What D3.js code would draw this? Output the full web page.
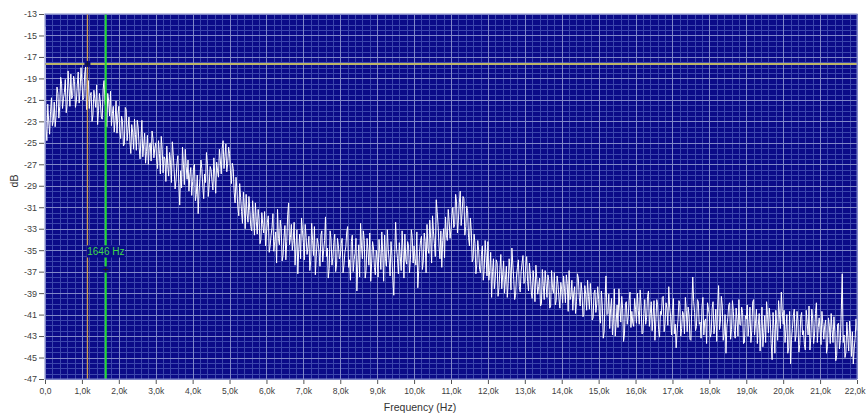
<!DOCTYPE html>
<html>
<head>
<meta charset="utf-8">
<script src="https://cdn.jsdelivr.net/npm/d3@7"></script>
<style>
  body { margin: 0; background: #fff; }
  text { font-family: "Liberation Sans", Arial, sans-serif; }
</style>
</head>
<body>
<div id="container"></div>
<script>
// spectrum, one value every 50 Hz from 0 to 22 kHz
const freqStep = 50;
const dbValues = [
  // 0 - 0.95k
  -14.2, -24.8, -23.0, -22.1, -23.4, -21.2, -22.5, -20.4, -21.6, -19.5, -20.9, -19.1, -21.4, -19.9, -18.6, -20.6, -19.3, -21.1, -18.4, -20.2,
  // 1k
  -19.3, -20.8, -17.9, -20.5, -21.8, -20.3, -22.4, -20.9, -19.6, -22.0, -21.2, -22.8, -19.2, -21.9, -20.4, -22.5, -23.4, -21.6, -22.9, -24.1,
  // 2k
  -21.6, -24.6, -23.0, -25.1, -21.9, -23.7, -24.9, -23.3, -25.6, -24.2, -22.9, -25.4, -24.6, -26.3, -24.1, -25.8, -27.0, -25.0, -23.9, -26.4,
  // 3k
  -25.0, -27.4, -26.0, -24.4, -27.8, -26.5, -25.3, -28.1, -26.8, -24.9, -27.6, -28.5, -26.2, -30.8, -29.2, -27.0, -25.6, -28.4, -29.5, -27.3,
  // 4k
  -28.6, -27.0, -29.8, -31.6, -28.3, -27.4, -30.2, -28.7, -26.9, -28.9, -27.5, -29.4, -28.0, -26.8, -28.2, -26.6, -25.5, -27.4, -25.1, -26.9,
  // 5k
  -26.0, -28.8, -27.4, -30.6, -29.4, -31.8, -30.1, -32.5, -31.0, -29.8, -32.4, -31.3, -33.2, -31.9, -30.6, -33.5, -32.1, -34.0, -32.6, -31.4,
  // 6k
  -33.4, -31.8, -34.6, -32.9, -35.1, -33.3, -31.2, -34.5, -33.0, -35.5, -32.7, -34.2, -30.6, -33.8, -35.0, -32.4, -34.7, -37.2, -33.5, -32.0,
  // 7k
  -34.3, -32.6, -35.4, -33.7, -36.0, -34.1, -32.8, -35.6, -34.4, -36.5, -33.2, -35.0, -31.9, -34.8, -36.7, -34.0, -35.7, -33.5, -36.3, -34.6,
  // 8k
  -35.6, -33.9, -36.4, -34.7, -32.8, -35.9, -34.2, -37.0, -35.3, -38.8, -34.5, -32.5, -35.8, -34.1, -36.9, -35.0, -33.4, -36.2, -34.8, -37.3,
  // 9k
  -35.9, -34.0, -36.8, -35.2, -33.6, -36.5, -34.9, -37.4, -35.5, -39.2, -32.4, -35.8, -34.3, -36.9, -35.1, -33.5, -36.3, -34.6, -35.9, -33.8,
  // 10k
  -34.6, -36.4, -38.5, -35.1, -33.7, -36.0, -34.2, -32.6, -35.3, -33.9, -31.8, -34.4, -30.3, -32.7, -35.8, -36.6, -33.0, -31.9, -34.1, -32.3,
  // 11k
  -33.1, -31.0, -32.6, -30.5, -32.2, -29.5, -31.6, -30.2, -32.8, -31.3, -34.6, -33.2, -35.8, -34.4, -36.3, -35.0, -37.1, -34.6, -36.8, -35.5,
  // 12k
  -34.2, -36.9, -39.4, -35.8, -37.6, -36.2, -38.5, -35.4, -37.3, -39.0, -36.5, -38.1, -36.9, -34.8, -37.7, -39.2, -36.6, -38.4, -37.0, -35.5,
  // 13k
  -37.9, -35.6, -38.8, -37.2, -39.5, -38.0, -36.4, -39.1, -37.6, -40.0, -38.3, -36.9, -39.4, -37.8, -40.2, -38.5, -37.1, -39.7, -38.2, -40.4,
  // 14k
  -38.7, -37.4, -39.9, -38.1, -36.9, -39.3, -40.6, -38.4, -39.8, -37.6, -40.2, -38.9, -41.0, -39.1, -37.8, -40.5, -39.3, -41.3, -38.7, -40.0,
  // 15k
  -39.6, -41.8, -40.2, -42.6, -37.4, -40.9, -42.3, -39.5, -41.4, -43.0, -40.1, -38.6, -41.7, -40.4, -42.8, -39.8, -41.2, -38.9, -40.7, -42.1,
  // 16k
  -40.5, -39.0, -41.9, -40.2, -42.7, -39.6, -41.3, -38.8, -40.9, -42.5, -39.7, -41.6, -40.1, -43.1, -41.0, -39.3, -41.8, -40.4, -38.4, -41.2,
  // 17k
  -40.6, -42.8, -44.1, -41.5, -40.0, -42.3, -41.0, -39.4, -42.6, -41.1, -43.4, -37.5, -40.8, -42.1, -39.8, -41.7, -40.3, -42.9, -41.4, -39.9,
  // 18k
  -41.0, -42.7, -39.8, -41.9, -43.5, -38.3, -41.6, -40.2, -42.8, -44.6, -41.3, -39.9, -42.4, -40.7, -43.2, -41.5, -39.6, -42.0, -40.8, -43.6,
  // 19k
  -41.4, -43.0, -40.3, -42.5, -39.6, -41.8, -43.7, -40.9, -42.2, -44.0, -41.1, -39.8, -42.7, -41.5, -45.2, -42.3, -40.6, -43.4, -41.0, -38.9,
  // 20k
  -41.9, -43.6, -41.0, -44.1, -45.6, -42.3, -40.5, -42.9, -41.6, -43.8, -40.8, -42.5, -44.3, -41.8, -40.2, -43.1, -41.4, -42.8, -39.9, -42.2,
  // 21k
  -42.4, -40.7, -43.3, -41.5, -44.0, -42.0, -40.9, -43.6, -42.6, -44.8, -41.8, -43.4, -37.2, -42.9, -44.5, -43.1, -41.6, -44.9, -45.6, -43.2,
  // 22k
  -42.5
]

// values read between the bins above (25 Hz, 75 Hz, ...)
const dbValuesMid = [
  -23.6, -21.4, -24.2, -20.8, -22.9, -23.5, -19.8, -22.7, -18.9, -21.8, -20.3, -22.2, -18.3, -21.6, -20.9, -18.8, -21.7, -19.6, -21.3, -18.0,
  -21.0, -18.6, -21.9, -19.2, -20.6, -23.0, -20.1, -21.7, -23.3, -20.4, -22.6, -20.0, -21.3, -23.5, -21.1, -20.2, -22.3, -24.0, -21.1, -22.4,
  -23.9, -22.5, -25.3, -21.7, -24.8, -22.6, -26.0, -24.0, -22.8, -25.7, -23.6, -26.5, -22.9, -25.2, -26.9, -24.3, -25.4, -26.7, -24.6, -25.5,
  -26.6, -24.8, -27.9, -25.6, -26.3, -28.6, -27.1, -25.9, -28.7, -26.1, -29.3, -26.9, -28.8, -27.6, -25.4, -28.9, -27.2, -26.6, -28.0, -29.9,
  -27.3, -30.4, -28.0, -29.5, -26.6, -29.1, -27.9, -25.9, -30.0, -27.2, -28.6, -26.4, -29.7, -27.6, -25.6, -27.9, -24.8, -26.3, -27.7, -25.4,
  -27.6, -26.9, -29.6, -28.2, -31.0, -28.8, -31.4, -29.6, -33.0, -31.6, -30.0, -32.8, -30.4, -33.6, -32.3, -31.2, -34.4, -31.5, -33.4, -34.6,
  -32.4, -35.2, -33.6, -31.6, -34.2, -36.2, -33.9, -32.2, -36.0, -33.8, -35.9, -31.7, -34.5, -32.6, -34.1, -36.4, -33.1, -34.9, -35.8, -33.2,
  -35.9, -33.8, -34.7, -36.9, -32.5, -35.5, -37.3, -33.9, -35.2, -33.6, -36.1, -34.1, -35.6, -37.6, -33.2, -36.4, -34.3, -37.0, -33.9, -35.8,
  -34.4, -37.1, -35.2, -33.3, -36.6, -37.8, -33.6, -35.9, -33.9, -36.3, -37.5, -34.6, -33.2, -37.6, -33.9, -36.4, -37.9, -34.2, -36.6, -35.0,
  -37.5, -35.3, -33.3, -37.9, -35.8, -33.1, -36.0, -34.2, -37.8, -35.4, -34.8, -37.2, -35.6, -33.2, -37.6, -35.9, -34.2, -37.1, -33.1, -36.2,
  -35.8, -33.3, -36.9, -34.1, -36.8, -33.4, -37.1, -34.8, -32.2, -36.2, -33.3, -35.6, -31.4, -34.6, -33.2, -34.1, -35.7, -33.6, -31.2, -33.9,
  -31.8, -32.9, -29.8, -33.4, -30.6, -32.7, -30.0, -33.6, -30.9, -33.8, -32.0, -36.1, -33.5, -37.2, -34.1, -36.8, -35.4, -37.8, -34.1, -37.4,
  -37.8, -35.2, -37.0, -38.6, -35.9, -39.3, -36.8, -38.6, -36.0, -37.7, -39.4, -35.8, -38.7, -36.3, -39.6, -37.4, -35.9, -38.9, -36.2, -38.1,
  -36.4, -37.9, -36.2, -38.9, -36.9, -39.8, -37.7, -38.4, -40.2, -36.8, -39.6, -38.1, -37.3, -40.4, -36.9, -39.0, -40.1, -37.4, -39.5, -38.0,
  -39.9, -38.6, -37.3, -40.7, -39.6, -37.8, -39.0, -40.9, -37.2, -39.4, -38.0, -41.2, -38.3, -40.6, -39.3, -38.1, -41.5, -39.0, -40.8, -38.4,
  -41.3, -38.8, -43.2, -39.4, -41.0, -39.1, -40.4, -42.9, -38.6, -41.7, -42.2, -40.3, -39.3, -43.5, -40.0, -41.9, -39.7, -42.2, -41.8, -39.5,
  -41.8, -40.6, -38.7, -42.8, -40.9, -41.9, -39.3, -42.1, -39.8, -41.2, -43.4, -39.6, -42.4, -40.7, -39.4, -42.6, -39.9, -42.0, -40.3, -42.9,
  -39.5, -41.9, -42.6, -39.7, -43.0, -40.7, -42.8, -40.6, -40.3, -43.3, -40.2, -39.8, -42.5, -39.6, -41.9, -43.2, -39.4, -41.6, -43.7, -40.5,
  -43.1, -40.4, -42.8, -40.5, -40.2, -42.4, -39.3, -43.4, -41.0, -42.1, -40.1, -43.3, -39.7, -42.5, -40.4, -43.0, -41.9, -40.3, -43.7, -41.1,
  -40.1, -41.9, -43.6, -39.8, -42.9, -40.5, -42.0, -44.4, -40.3, -42.7, -43.6, -41.0, -40.4, -43.7, -40.8, -44.6, -41.9, -39.7, -42.3, -40.7,
  -40.6, -42.4, -44.6, -40.7, -43.3, -41.1, -43.5, -40.7, -44.5, -41.2, -42.9, -43.8, -40.6, -42.9, -44.3, -40.5, -43.7, -40.9, -43.6, -41.3,
  -43.8, -41.9, -42.0, -44.6, -41.3, -43.7, -42.4, -41.2, -45.3, -41.9, -44.2, -40.5, -43.6, -45.0, -41.7, -44.4, -42.8, -42.6, -44.1, -41.4
]

const xTicks = [0, 1000, 2000, 3000, 4000, 5000, 6000, 7000, 8000, 9000, 10000, 11000,
  12000, 13000, 14000, 15000, 16000, 17000, 18000, 19000, 20000, 21000, 22000]
const xTickLabels = ["0,0", "1,0k", "2,0k", "3,0k", "4,0k", "5,0k", "6,0k", "7,0k", "8,0k", "9,0k", "10,0k", "11,0k",
  "12,0k", "13,0k", "14,0k", "15,0k", "16,0k", "17,0k", "18,0k", "19,0k", "20,0k", "21,0k", "22,0k"]
const yTicks = [-13, -15, -17, -19, -21, -23, -25, -27, -29, -31, -33, -35, -37, -39, -41, -43, -45, -47]

// cursors: yellow (freq + level), green (freq with label)
const yellowCursor = { freq: 1150, db: -17.65 }
const greenCursor = { freq: 1646, db: -36.8, label: "1646 Hz" }

// constants
const width = 866,
  height = 414,
  margin = { top: 14, bottom: 35, left: 45, right: 9 }

const bg = "#0b0b88"

// interleave the two readings into one trace
const data = []
dbValues.forEach((v, i) => {
  data.push({ freq: i * freqStep, db: v })
  if (i < dbValuesMid.length) data.push({ freq: i * freqStep + freqStep / 2, db: dbValuesMid[i] })
})

// scales
const xScale = d3.scaleLinear()
  .domain([0, 22000])
  .range([margin.left, width - margin.right])

const yScale = d3.scaleLinear()
  .domain([-47, -13])
  .range([height - margin.bottom, margin.top])

const svg = d3.select("#container")
  .append("svg")
  .attr("width", width)
  .attr("height", height)

const x0 = xScale.range()[0], x1 = xScale.range()[1]
const y0 = yScale.range()[0], y1 = yScale.range()[1]

svg.append("rect")
  .attr("x", x0).attr("y", y1)
  .attr("width", x1 - x0).attr("height", y0 - y1)
  .attr("fill", bg)

// grid: minor every 200 Hz / 0.5 dB, major every 1 kHz / 2 dB
const grid = svg.append("g").attr("class", "grid")
const xMinor = d3.range(0, 22001, 200)
const yMinor = d3.range(-47, -12.9, 0.5)

grid.selectAll(".vminor")
  .data(xMinor)
  .join("line")
  .attr("x1", d => Math.round(xScale(d)) + 0.5)
  .attr("x2", d => Math.round(xScale(d)) + 0.5)
  .attr("y1", y1).attr("y2", y0)
  .attr("stroke", "#3d47ad")
  .attr("stroke-width", 1)

grid.selectAll(".hminor")
  .data(yMinor)
  .join("line")
  .attr("y1", d => Math.round(yScale(d)) + 0.5)
  .attr("y2", d => Math.round(yScale(d)) + 0.5)
  .attr("x1", x0).attr("x2", x1)
  .attr("stroke", "#3d47ad")
  .attr("stroke-width", 1)

grid.selectAll(".vmajor")
  .data(xTicks)
  .join("line")
  .attr("x1", d => Math.round(xScale(d)) + 0.5)
  .attr("x2", d => Math.round(xScale(d)) + 0.5)
  .attr("y1", y1).attr("y2", y0)
  .attr("stroke", "#8088c8")
  .attr("stroke-width", 1)

grid.selectAll(".hmajor")
  .data(yTicks)
  .join("line")
  .attr("y1", d => Math.round(yScale(d)) + 0.5)
  .attr("y2", d => Math.round(yScale(d)) + 0.5)
  .attr("x1", x0).attr("x2", x1)
  .attr("stroke", "#8088c8")
  .attr("stroke-width", 1)

// spectrum line
const lineGen = d3.line()
  .x(d => xScale(d.freq))
  .y(d => yScale(d.db))

svg.append("path")
  .datum(data)
  .attr("fill", "none")
  .attr("stroke", "#ffffff")
  .attr("stroke-width", 1)
  .attr("d", lineGen)

// cursors
const cur = svg.append("g").attr("class", "cursors")

cur.append("line")
  .attr("x1", xScale(yellowCursor.freq)).attr("x2", xScale(yellowCursor.freq))
  .attr("y1", y1).attr("y2", y0)
  .attr("stroke", "#d0a050").attr("stroke-width", 1.3)

cur.append("line")
  .attr("x1", x0).attr("x2", x1)
  .attr("y1", yScale(yellowCursor.db)).attr("y2", yScale(yellowCursor.db))
  .attr("stroke", "#bcb468").attr("stroke-width", 2)

const gx = xScale(greenCursor.freq)
cur.append("line")
  .attr("x1", gx).attr("x2", gx)
  .attr("y1", y1).attr("y2", y0)
  .attr("stroke", "#22dd33").attr("stroke-width", 2)

// label box hides the cursor behind its text
const gy = yScale(greenCursor.db)
cur.append("rect")
  .attr("x", gx - 19).attr("y", gy - 24)
  .attr("width", 38).attr("height", 12)
  .attr("fill", bg)

cur.append("text")
  .attr("x", gx - 18.5).attr("y", gy - 14.5)
  .attr("fill", "#3ed84a")
  .attr("font-size", 10)
  .text(greenCursor.label)

// small cross markers at the cursor points
function marker(px, py) {
  cur.append("rect").attr("x", px - 3).attr("y", py - 3).attr("width", 6).attr("height", 6).attr("fill", bg)
  cur.append("path")
    .attr("d", `M${px - 2.5},${py}H${px + 2.5}M${px},${py - 2.5}V${py + 2.5}`)
    .attr("stroke", "#202020").attr("stroke-width", 1)
}
marker(gx, gy)
marker(xScale(yellowCursor.freq), yScale(yellowCursor.db))

// frame
svg.append("rect")
  .attr("x", x0).attr("y", y1)
  .attr("width", x1 - x0).attr("height", y0 - y1)
  .attr("fill", "none")
  .attr("stroke", "#8088c8")

// axes
const xAxis = d3.axisBottom(xScale)
  .tickValues(xTicks)
  .tickFormat((d, i) => xTickLabels[i])
  .tickSize(4)
  .tickPadding(4)

const xAxisGroup = svg.append("g")
  .attr("class", "xAxis")
  .attr("transform", `translate(0, ${y0 + 1})`)
  .call(xAxis)

xAxisGroup.select(".domain").remove()
xAxisGroup.selectAll("line").attr("stroke", "#555")
xAxisGroup.selectAll("text")
  .attr("fill", "#404040")
  .attr("font-size", 8.5)
  .attr("font-family", "Liberation Sans, Arial, sans-serif")

// last label sits against the right edge
xAxisGroup.selectAll("text")
  .filter((d, i) => i === xTicks.length - 1)
  .attr("text-anchor", "end")
  .attr("x", 8)

const yAxis = d3.axisLeft(yScale)
  .tickValues(yTicks)
  .tickFormat(d => d)
  .tickSize(5)
  .tickPadding(2)

const yAxisGroup = svg.append("g")
  .attr("class", "yAxis")
  .attr("transform", `translate(${x0 - 1}, 0)`)
  .call(yAxis)

yAxisGroup.select(".domain").remove()
yAxisGroup.selectAll("line").attr("stroke", "#555")
yAxisGroup.selectAll("text")
  .attr("fill", "#404040")
  .attr("font-size", 9)
  .attr("font-family", "Liberation Sans, Arial, sans-serif")

// axis titles
svg.append("text")
  .attr("x", 420)
  .attr("y", 411)
  .attr("text-anchor", "middle")
  .attr("fill", "#333")
  .attr("font-size", 10.5)
  .text("Frequency (Hz)")

svg.append("text")
  .attr("transform", `translate(18, 181) rotate(-90)`)
  .attr("text-anchor", "middle")
  .attr("fill", "#333")
  .attr("font-size", 10.5)
  .text("dB")
</script>
</body>
</html>
